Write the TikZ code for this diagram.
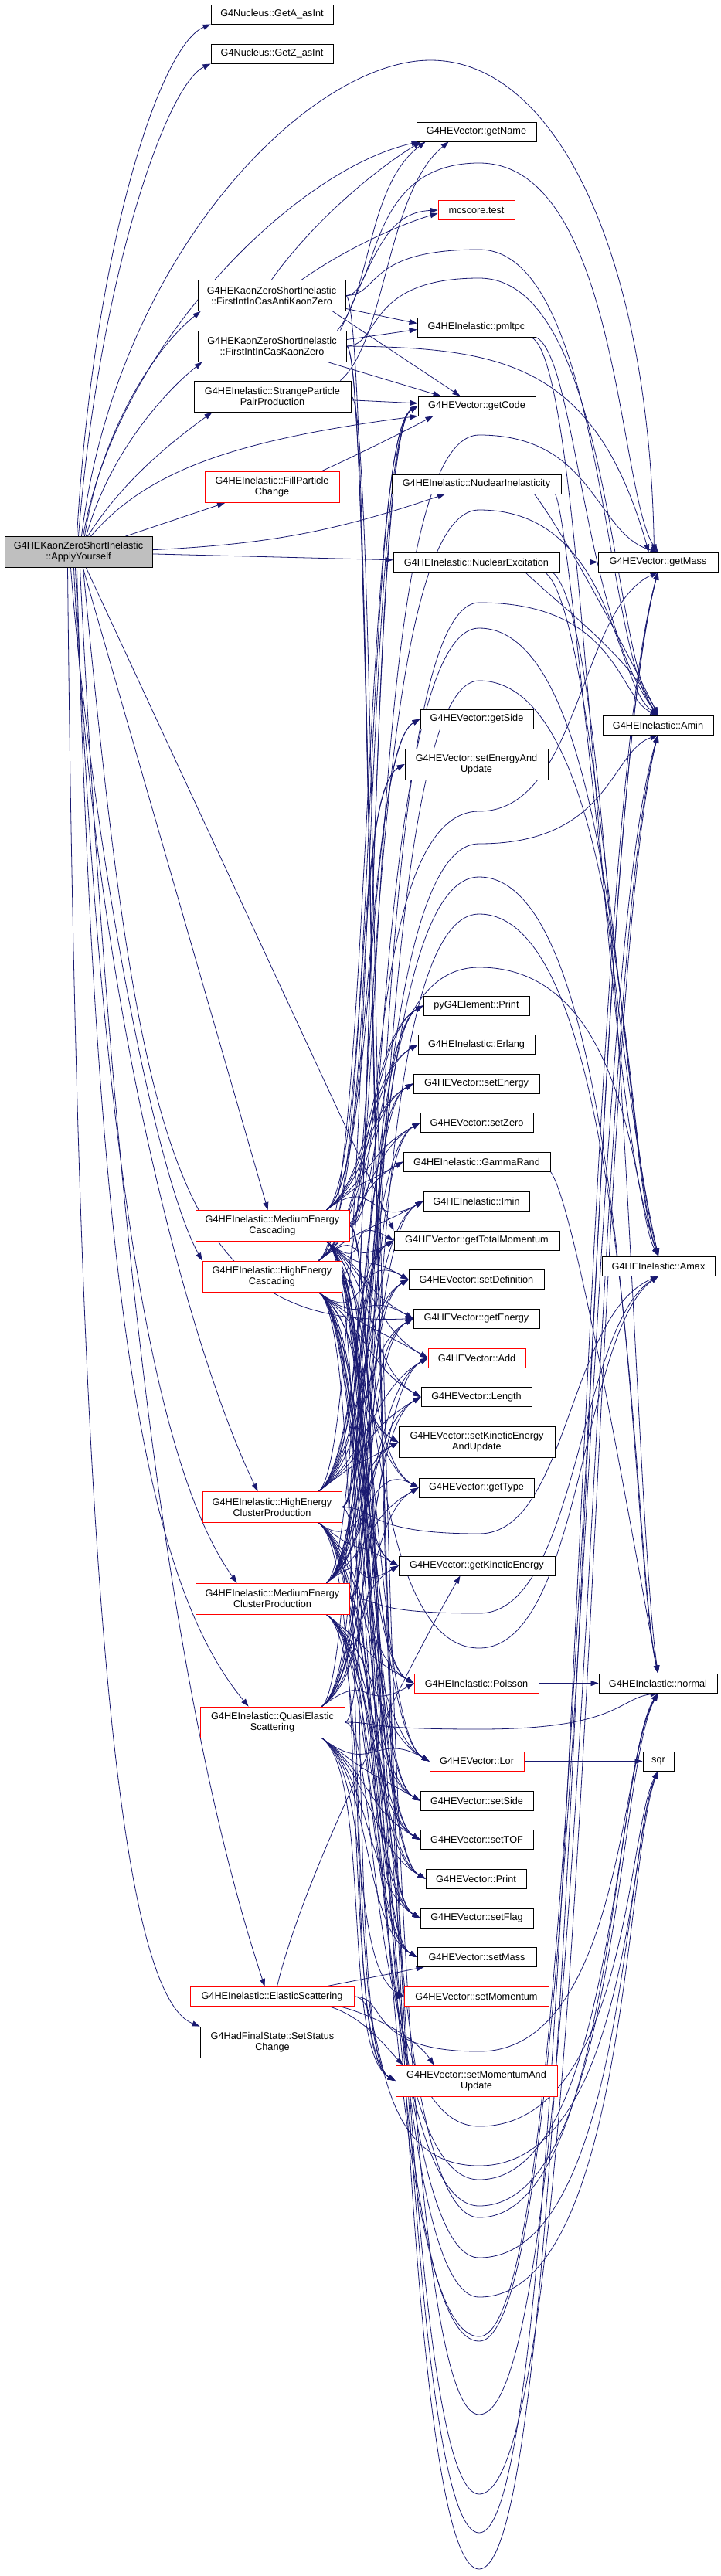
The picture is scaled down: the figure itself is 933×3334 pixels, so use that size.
\documentclass[tikz,border=0pt]{standalone}
\usepackage{fontspec}
\setmainfont{Liberation Sans}
\usetikzlibrary{arrows.meta,backgrounds,calc}

\definecolor{callblue}{RGB}{25,25,112}
\definecolor{rootgray}{RGB}{191,191,191}

\tikzset{
  fn/.style={draw=black, line width=0.9pt, fill=white, inner sep=0pt,
    minimum height=25pt, align=center, font=\fontsize{12.7}{14}\selectfont},
  fntwo/.style={fn, minimum height=40pt},
  fnred/.style={fn, draw=red},
  fnredtwo/.style={fntwo, draw=red},
  call/.style={draw=callblue, line width=0.8pt, -{Triangle[length=10pt,width=7pt]}},
}

\begin{document}
\begin{tikzpicture}[x=1pt, y=1pt]
\useasboundingbox (0,0) rectangle (933,-3334);

\node[fntwo, fill=rootgray, minimum width=191pt] (apply) at (101.5,-714.5) {G4HEKaonZeroShortInelastic\\::ApplyYourself};

\foreach \nm/\st/\cx/\cy/\bw/\lbl in {
  getA/fn/352/18.5/158/{G4Nucleus::GetA\_asInt},
  getZ/fn/352/69.5/158/{G4Nucleus::GetZ\_asInt},
  antiKaon/fntwo/351.5/382.5/191/{G4HEKaonZeroShortInelastic\\::FirstIntInCasAntiKaonZero},
  kaon/fntwo/352/448/192/{G4HEKaonZeroShortInelastic\\::FirstIntInCasKaonZero},
  strange/fntwo/352.5/513/203/{G4HEInelastic::StrangeParticle\\PairProduction},
  fill/fnredtwo/352/630.5/174/{G4HEInelastic::FillParticle\\Change},
  medCasc/fnredtwo/352.5/1586.5/199/{G4HEInelastic::MediumEnergy\\Cascading},
  highCasc/fnredtwo/352/1652/180/{G4HEInelastic::HighEnergy\\Cascading},
  highClus/fnredtwo/352/1950.5/180/{G4HEInelastic::HighEnergy\\ClusterProduction},
  medClus/fnredtwo/352.5/2069/199/{G4HEInelastic::MediumEnergy\\ClusterProduction},
  quasi/fnredtwo/352.5/2229/187/{G4HEInelastic::QuasiElastic\\Scattering},
  elastic/fnred/352/2584/212/{G4HEInelastic::ElasticScattering},
  status/fntwo/352.5/2643/187/{G4HadFinalState::SetStatus\\Change},
  getName/fn/616.5/170.5/155/{G4HEVector::getName},
  mcscore/fnred/616.5/272/99/{mcscore.test},
  pmltpc/fn/616.5/423.5/153/{G4HEInelastic::pmltpc},
  getCode/fn/617/525.5/152/{G4HEVector::getCode},
  nucInel/fn/616.5/626.5/219/{G4HEInelastic::NuclearInelasticity},
  nucExc/fn/616.5/727.5/215/{G4HEInelastic::NuclearExcitation},
  getSide/fn/617/930.5/146/{G4HEVector::getSide},
  setEnUpd/fntwo/616.5/989/185/{G4HEVector::setEnergyAnd\\Update},
  pyPrint/fn/616.5/1301.5/137/{pyG4Element::Print},
  erlang/fn/616.5/1352/151/{G4HEInelastic::Erlang},
  setEnergy/fn/616.5/1402.5/163/{G4HEVector::setEnergy},
  setZero/fn/617/1453/146/{G4HEVector::setZero},
  gammaRand/fn/617/1503.5/190/{G4HEInelastic::GammaRand},
  imin/fn/616.5/1554.5/137/{G4HEInelastic::Imin},
  getTotMom/fn/617/1605.5/214/{G4HEVector::getTotalMomentum},
  setDef/fn/616.5/1656/175/{G4HEVector::setDefinition},
  getEnergy/fn/616.5/1706.5/163/{G4HEVector::getEnergy},
  add/fnred/617/1757.5/126/{G4HEVector::Add},
  length/fn/616.5/1808/143/{G4HEVector::Length},
  setKinE/fntwo/617/1866.5/202/{G4HEVector::setKineticEnergy\\AndUpdate},
  getType/fn/616.5/1925.5/149/{G4HEVector::getType},
  getKinE/fn/617/2026.5/202/{G4HEVector::getKineticEnergy},
  poisson/fnred/616.5/2178.5/161/{G4HEInelastic::Poisson},
  lor/fnred/617/2279.5/122/{G4HEVector::Lor},
  setSide/fn/617/2330.5/146/{G4HEVector::setSide},
  setTOF/fn/617/2381/146/{G4HEVector::setTOF},
  vecPrint/fn/616/2431.5/130/{G4HEVector::Print},
  setFlag/fn/617/2482.5/146/{G4HEVector::setFlag},
  setMass/fn/617/2533/154/{G4HEVector::setMass},
  setMom/fnred/616.5/2584/187/{G4HEVector::setMomentum},
  setMomUpd/fnredtwo/616.5/2693/209/{G4HEVector::setMomentumAnd\\Update},
  getMass/fn/851.5/727.5/155/{G4HEVector::getMass},
  amin/fn/851.5/938.5/143/{G4HEInelastic::Amin},
  amax/fn/852/1638.5/146/{G4HEInelastic::Amax},
  normal/fn/851.5/2178.5/153/{G4HEInelastic::normal},
  sqr/fn/852/2279.5/40/{sqr}}
  \node[\st, minimum width=\bw pt] (\nm) at (\cx,-\cy) {\lbl};

\begin{pgfonlayer}{background}
\draw[call] ([xshift=-2pt]apply.north) .. controls (120,-330) and (205,-60) .. (getA.south west);
\draw[call] (apply.north) .. controls (128,-360) and (215,-110) .. (getZ.south west);
\draw[call] ([xshift=4pt]apply.north) .. controls (150,-330) and (400,-78) .. (557,-78)
  .. controls (720,-78) and (840,-330) .. ([xshift=-5pt]getMass.north);
\draw[call] ([xshift=6pt]apply.north) .. controls (150,-450) and (380,-220) .. ([xshift=4pt]getName.south west);
\draw[call] ([xshift=8pt]apply.north) .. controls (130,-560) and (200,-450) .. ([xshift=4pt]antiKaon.south west);
\draw[call] ([xshift=10pt]apply.north) .. controls (140,-590) and (210,-510) .. ([xshift=6pt]kaon.south west);
\draw[call] ([xshift=12pt]apply.north) .. controls (160,-620) and (225,-570) .. ([xshift=24pt]strange.south west);
\draw[call] ([xshift=16pt]apply.north) .. controls (190,-610) and (300,-570) .. (getCode.south west);
\draw[call] (apply) -- (fill);
\draw[call] (apply) to[bend right=8] (nucInel);
\draw[call] (apply) -- (nucExc);
\draw[call] (apply) -- (medCasc);
\draw[call] ([xshift=-10pt]apply.south) .. controls (120,-1100) and (200,-1520) .. (highCasc.north west);
\draw[call] ([xshift=-6pt]apply.south) .. controls (120,-1300) and (250,-1760) .. ([xshift=72pt]highClus.north west);
\draw[call] ([xshift=-4pt]apply.south) .. controls (130,-1500) and (200,-1900) .. ([xshift=54pt]medClus.north west);
\draw[call] ([xshift=-2pt]apply.south) .. controls (125,-1700) and (190,-2050) .. ([xshift=63pt]quasi.north west);
\draw[call] ([xshift=2pt]apply.south) .. controls (160,-1900) and (270,-2350) .. ([xshift=97pt]elastic.north west);
\draw[call] ([xshift=-14pt]apply.south) .. controls (100,-2000) and (150,-2580) .. (status.north west);
\draw[call] ([xshift=6pt]apply.south) .. controls (180,-1500) and (230,-1720) .. (getEnergy.west);
\draw[call] ([xshift=10pt]apply.south) -- (getTotMom.north west);

\draw[call] (antiKaon.north) .. controls (395,-300) and (470,-230) .. ([xshift=6pt]getName.south west);
\draw[call] ([xshift=-12pt]kaon.north east) .. controls (480,-380) and (475,-240) .. ([xshift=12pt]getName.south west);
\draw[call] ([xshift=-14pt]strange.north east) .. controls (500,-440) and (500,-250) .. ([xshift=42pt]getName.south west);
\draw[call] ([xshift=-57pt]antiKaon.north east) .. controls (450,-320) and (520,-290) .. ([yshift=-4pt]mcscore.west);
\draw[call] ([xshift=-8pt]kaon.north east) .. controls (485,-330) and (500,-275) .. (mcscore.west);
\draw[call] (antiKaon.-10) -- ([yshift=5pt]pmltpc.west);
\draw[call] (kaon.5) -- ([yshift=-3pt]pmltpc.west);
\draw[call] ([xshift=-17pt]antiKaon.south east) -- ([xshift=55pt]getCode.north west);
\draw[call] ([xshift=-25pt]kaon.south east) -- ([xshift=30pt]getCode.north west);
\draw[call] (strange) -- (getCode);
\draw[call] ([xshift=-24pt]fill.north east) .. controls (460,-590) and (520,-560) .. ([xshift=20pt]getCode.south west);
\draw[call] (kaon.east) .. controls (650,-450) and (770,-470) .. ([xshift=-12pt]getMass.north);

\draw[call] (pmltpc.south east) .. controls (745,-460) and (755,-800) .. (amin.north);
\draw[call] ([xshift=-6pt]pmltpc.south east) .. controls (760,-470) and (770,-1400) .. (amax.north);
\draw[call] ([xshift=-35pt]nucInel.south east) .. controls (730,-690) and (810,-840) .. (amin.north);
\draw[call] ([xshift=-8pt]nucInel.south east) .. controls (740,-680) and (790,-1350) .. (amax.north);
\draw[call] (nucExc) -- (getMass);
\draw[call] ([xshift=-45pt]nucExc.south east) .. controls (720,-780) and (815,-850) .. (amin.north);
\draw[call] ([xshift=-20pt]nucExc.south east) .. controls (770,-780) and (805,-1450) .. (amax.north);
\draw[call] ([xshift=-10pt]nucExc.south east) .. controls (800,-800) and (820,-1950) .. (normal.north);
\draw[call] (gammaRand.south east) .. controls (745,-1560) and (820,-2000) .. (normal.north);
\draw[call] (poisson) -- (normal);
\draw[call] (lor) -- (sqr);

\draw[call] (elastic) -- (setMom);
\draw[call] ([xshift=-38pt]elastic.north east) -- ([xshift=9pt]setMass.south west);
\draw[call] ([xshift=-32pt]elastic.south east) .. controls (470,-2610) and (500,-2650) .. ([xshift=10pt]setMomUpd.north west);
\draw[call] ([xshift=-18pt]elastic.south east) .. controls (490,-2610) and (540,-2640) .. ([xshift=50pt]setMomUpd.north west);
\draw[call] ([xshift=-100pt]elastic.north east) .. controls (400,-2400) and (560,-2100) .. ([xshift=80pt]getKinE.south west);

\foreach \src/\ups/\downs in {
  medCasc/{getCode,getSide,setEnUpd,pyPrint,erlang,setEnergy,setZero,gammaRand,imin}/{getTotMom,setDef,getEnergy,add,length,setKinE,getType,getKinE,poisson,lor,setSide,setTOF,vecPrint,setFlag,setMass,setMomUpd},
  highCasc/{getCode,getSide,setEnUpd,pyPrint,erlang,setEnergy,setZero,gammaRand,imin,getTotMom}/{setDef,getEnergy,add,length,setKinE,getType,getKinE,poisson,lor,setSide,setTOF,vecPrint,setFlag,setMass,setMomUpd},
  highClus/{getCode,pyPrint,setEnergy,setZero,imin,getTotMom,setDef,getEnergy,add,length,setKinE}/{getType,getKinE,poisson,lor,setSide,setTOF,vecPrint,setFlag,setMass,setMomUpd},
  medClus/{getCode,pyPrint,setEnergy,setZero,imin,getTotMom,setDef,getEnergy,add,length,setKinE,getType,getKinE}/{poisson,lor,setSide,setTOF,vecPrint,setFlag,setMass,setMomUpd},
  quasi/{getCode,getTotMom,setDef,getEnergy,add,length,setKinE,getType,getKinE,poisson}/{lor,setSide,setTOF,vecPrint,setFlag,setMass,setMom,setMomUpd}}{
  \foreach \tgt in \ups
    \draw[call] ([xshift=-30pt]\src.north east) .. controls ($(\src.north east)+(35,50)$) and ($(\tgt.west)+(-70,-40)$) .. (\tgt.west);
  \foreach \tgt in \downs
    \draw[call] ([xshift=-30pt]\src.south east) .. controls ($(\src.south east)+(35,-50)$) and ($(\tgt.west)+(-70,40)$) .. (\tgt.west);
}

\foreach \src/\tgt/\ya/\ux in {antiKaon/getMass/211/800, antiKaon/amin/323/780, kaon/amin/360/790,
  medCasc/getMass/563/770, highCasc/amin/660/795, medClus/amin/780/800, highClus/amax/813/805,
  quasi/amax/881/810, highClus/normal/1135/815, medClus/normal/1183/818, medCasc/amax/1252/820}
  \draw[call] (\src.east) .. controls +(45,0) and (470,-\ya) .. (620,-\ya)
    .. controls (\ux,-\ya) and ($(\tgt.north -| \ux,0)!.15!(\ux,-\ya)$) .. (\tgt.north);

\foreach \src/\tgt/\yb/\ux in {highClus/amin/1092/790, medCasc/getMass/1050/750, highClus/amax/1985/735,
  medClus/amax/2088/748, highCasc/amax/2133/752, quasi/normal/2238/800, elastic/normal/2655/805,
  quasi/sqr/2752/812, elastic/sqr/2803/815, medClus/normal/2821/795, highClus/normal/2855/798,
  medCasc/normal/2870/792, highCasc/sqr/2922/808, medCasc/sqr/2973/810, highCasc/getMass/3024/758,
  medCasc/amin/3030/755, strange/amin/3125/762, kaon/amin/3228/765, antiKaon/getMass/3278/745,
  kaon/getMass/3325/750}
  \draw[call] (\src.east) .. controls +(45,0) and (470,-\yb) .. (620,-\yb)
    .. controls (\ux,-\yb) and ($(\tgt.south -| \ux,0)!.15!(\ux,-\yb)$) .. (\tgt.south);
\end{pgfonlayer}
\end{tikzpicture}
\end{document}
